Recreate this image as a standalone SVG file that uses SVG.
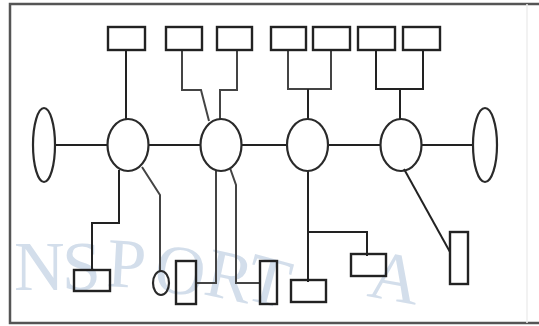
<svg xmlns="http://www.w3.org/2000/svg" width="539" height="326" viewBox="0 0 539 326">
<style>
.wm{font-family:"Liberation Serif","DejaVu Serif",serif;font-size:70px;fill:#9fb7d3;opacity:0.45}
.frame{fill:none;stroke:#555;stroke-width:2.5}
.hub{fill:none;stroke:#2a2a2a;stroke-width:2.2}
.box{fill:none;stroke:#222;stroke-width:2.4}
.ln{fill:none;stroke:#222;stroke-width:2}
.lg{fill:none;stroke:#444;stroke-width:2}
</style>
<rect width="539" height="326" fill="#fff"/>
<g id="watermark">
<text class="wm" x="14" y="290">N</text>
<text class="wm" x="62" y="290">S</text>
<text class="wm" x="106" y="286" transform="rotate(3 106 286)">P</text>
<text class="wm" x="152" y="290" transform="rotate(8 152 290)">O</text>
<text class="wm" x="202" y="294" transform="rotate(12 202 294)">R</text>
<text class="wm" x="242" y="298" transform="rotate(15 242 298)">T</text>
<text class="wm" x="366" y="296" transform="rotate(10 366 296)">A</text>
</g>
<g id="frame">
<path class="frame" d="M539,4 H10 V323 H539"/>
<line x1="527" y1="4" x2="527" y2="323" stroke="#eee" stroke-width="1.5"/>
</g>
<g id="connectors">
<path class="ln" d="M55,145 H108 M149,145 H201 M242,145 H287 M328,145 H380 M422,145 H473"/>
<path class="ln" d="M126,50 V119"/>
<path class="lg" d="M182,50 V90 H201 L209,121"/>
<path class="lg" d="M237,50 V90 H220 V119"/>
<path class="lg" d="M288,50 V89 H331 V50"/>
<path class="ln" d="M308,89 V119"/>
<path class="ln" d="M376,50 V89 H423 V50 M400,89 V119"/>
<path class="ln" d="M119,170 V223 H92 V270"/>
<path class="lg" d="M142,167 L160,195 V271"/>
<path class="lg" d="M216,171 V283 H196"/>
<path class="lg" d="M230,168 L236,185 V283 H260"/>
<path class="ln" d="M308,171 V282 M308,232 H367 V256"/>
<path class="ln" d="M404,169 L450,252"/>
</g>
<g id="end-left"><ellipse class="hub" cx="44" cy="145" rx="11" ry="37"/></g>
<g id="hub1"><ellipse class="hub" cx="128" cy="145" rx="20.5" ry="26"/></g>
<g id="hub2"><ellipse class="hub" cx="221" cy="145" rx="20.5" ry="26"/></g>
<g id="hub3"><ellipse class="hub" cx="307.5" cy="145" rx="20.5" ry="26"/></g>
<g id="hub4"><ellipse class="hub" cx="401" cy="145" rx="20.5" ry="26"/></g>
<g id="end-right"><ellipse class="hub" cx="485" cy="145" rx="12" ry="37"/></g>
<g id="top1"><rect class="box" x="108" y="27" width="37" height="23"/></g>
<g id="top2"><rect class="box" x="166" y="27" width="36" height="23"/></g>
<g id="top3"><rect class="box" x="217" y="27" width="35" height="23"/></g>
<g id="top4"><rect class="box" x="271" y="27" width="35" height="23"/></g>
<g id="top5"><rect class="box" x="313" y="27" width="37" height="23"/></g>
<g id="top6"><rect class="box" x="358" y="27" width="37" height="23"/></g>
<g id="top7"><rect class="box" x="403" y="27" width="37" height="23"/></g>
<g id="bottomA"><rect class="box" x="74" y="270" width="36" height="21"/></g>
<g id="bottomCircle"><ellipse class="hub" cx="161" cy="283" rx="8" ry="12"/></g>
<g id="bottomB"><rect class="box" x="176" y="261" width="20" height="43"/></g>
<g id="bottomC"><rect class="box" x="260" y="261" width="17" height="43"/></g>
<g id="bottomD"><rect class="box" x="291" y="280" width="35" height="22"/></g>
<g id="bottomE"><rect class="box" x="351" y="254" width="35" height="22"/></g>
<g id="bottomF"><rect class="box" x="450" y="232" width="18" height="52"/></g>
</svg>
